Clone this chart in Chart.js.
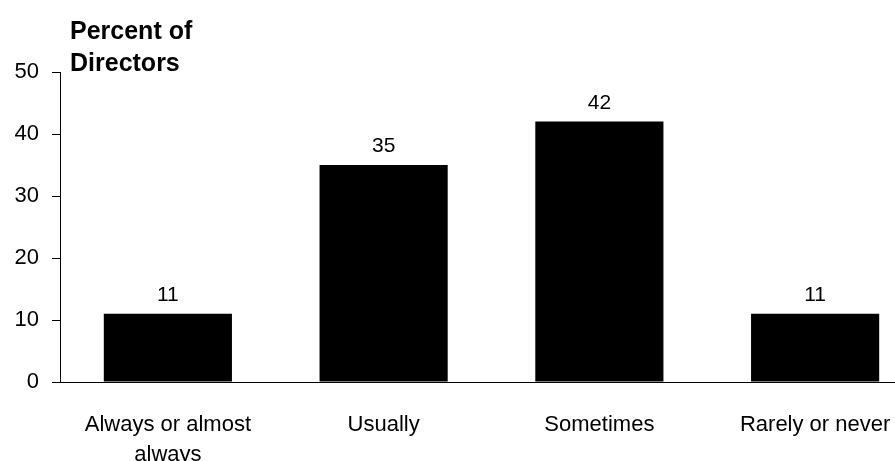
<!DOCTYPE html>
<html>
<head>
<meta charset="utf-8">
<script src="https://cdn.jsdelivr.net/npm/chart.js@4"></script>
<style>
  html, body { margin: 0; padding: 0; background: #fff; overflow: hidden; width: 895px; height: 461px; }
  #wrap { width: 923px; height: 461px; }
</style>
</head>
<body>
<div id="wrap"><canvas id="c" width="923" height="461"></canvas></div>
<script>
const categories = [["Always or almost", "always"], "Usually", "Sometimes", "Rarely or never"];
const percentValues = [11, 35, 42, 11];
const yTicks = [0, 10, 20, 30, 40, 50];
const axisTitleLines = ["Percent of", "Directors"];

const FONT = "'Liberation Sans', Arial, Helvetica, sans-serif";

const titlePlugin = {
  id: 'axisTitle',
  afterDraw(chart) {
    const ctx = chart.ctx;
    ctx.save();
    ctx.fillStyle = '#000';
    ctx.font = "bold 25px " + FONT;
    ctx.textAlign = 'left';
    ctx.textBaseline = 'alphabetic';
    ctx.fillText(axisTitleLines[0], 70, 39);
    ctx.fillText(axisTitleLines[1], 70, 71);
    ctx.restore();
  }
};

const valueLabels = {
  id: 'valueLabels',
  afterDatasetsDraw(chart) {
    const ctx = chart.ctx;
    const meta = chart.getDatasetMeta(0);
    ctx.save();
    ctx.fillStyle = '#000';
    ctx.font = "21px " + FONT;
    ctx.textAlign = 'center';
    ctx.textBaseline = 'alphabetic';
    meta.data.forEach((bar, i) => {
      ctx.fillText(String(percentValues[i]), bar.x, bar.y - 13);
    });
    ctx.restore();
  }
};

new Chart(document.getElementById('c'), {
  type: 'bar',
  data: {
    labels: categories,
    datasets: [{
      data: percentValues,
      backgroundColor: '#000',
      borderWidth: 0,
      barPercentage: 0.594,
      categoryPercentage: 1.0
    }]
  },
  options: {
    responsive: false,
    animation: false,
    devicePixelRatio: 1,
    layout: { padding: { top: 72, right: 0, left: 0, bottom: 0 } },
    plugins: {
      legend: { display: false },
      tooltip: { enabled: false },
      title: { display: false }
    },
    scales: {
      x: {
        grid: { display: true, drawOnChartArea: false, drawTicks: false },
        border: { display: true, color: '#000', width: 1 },
        ticks: {
          color: '#000',
          font: { family: FONT, size: 22, lineHeight: 1.36 },
          padding: 28,
          maxRotation: 0,
          autoSkip: false
        },
        afterFit(s) { s.height = 79; }
      },
      y: {
        min: 0,
        max: 50,
        afterBuildTicks(s) { s.ticks = yTicks.map(v => ({ value: v })); },
        grid: { drawOnChartArea: false, drawTicks: true, tickLength: 8, color: '#000' },
        border: { display: true, color: '#000', width: 1 },
        ticks: {
          color: '#000',
          font: { family: FONT, size: 22 },
          padding: 13
        },
        afterFit(s) { s.width = 60; }
      }
    }
  },
  plugins: [titlePlugin, valueLabels]
});
</script>
</body>
</html>
